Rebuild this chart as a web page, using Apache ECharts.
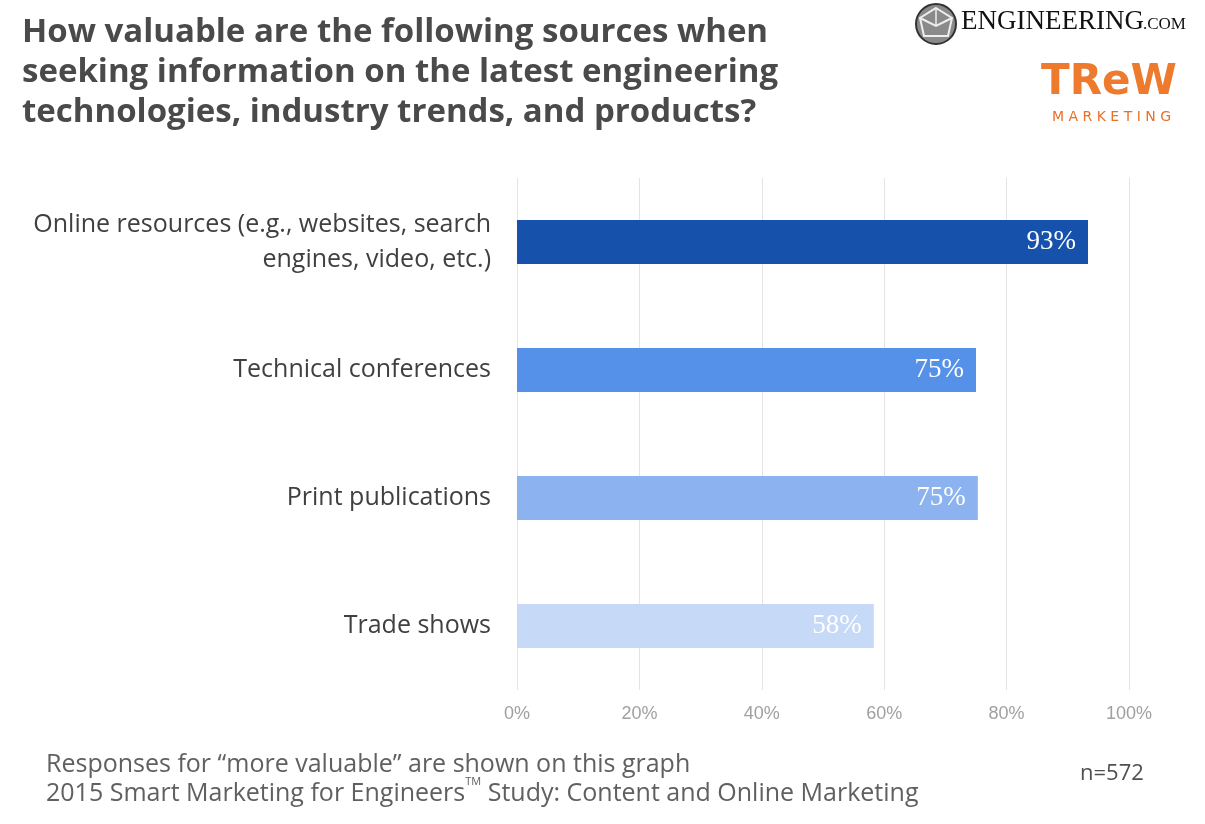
<!DOCTYPE html>
<html>
<head>
<meta charset="utf-8">
<script src="https://cdn.jsdelivr.net/npm/echarts@6/dist/echarts.min.js"></script>
<style>
  html, body { margin: 0; padding: 0; background: #fff; }
  #chart { width: 1205px; height: 824px; }
</style>
</head>
<body>
<div id="chart"></div>
<script>
const categories = [
  "Online resources (e.g., websites, search\nengines, video, etc.)",
  "Technical conferences",
  "Print publications",
  "Trade shows",
];
const values = [93.3, 75.0, 75.3, 58.3];
const labels = ["93%", "75%", "75%", "58%"];
const barColors = ["#1651AC", "#5591E8", "#8CB3F0", "#C6D9F6"];
const xTicks = [0, 20, 40, 60, 80, 100];

const chart = echarts.init(document.getElementById("chart"));

const title = "How valuable are the following sources when\nseeking information on the latest engineering\ntechnologies, industry trends, and products?";

chart.setOption({
  animation: false,
  grid: { left: 517, right: 76, top: 178, bottom: 134 },
  xAxis: {
    type: "value",
    min: 0,
    max: 100,
    interval: 20,
    axisLine: { show: false },
    axisTick: { show: false },
    splitLine: { lineStyle: { color: "#e4e4e4", width: 1 } },
    axisLabel: {
      color: "#a0a0a0",
      fontFamily: "Liberation Sans",
      fontSize: 18,
      margin: 15,
      formatter: (v) => (xTicks.includes(v) ? v + "%" : ""),
    },
  },
  yAxis: {
    type: "category",
    inverse: true,
    data: categories,
    axisLine: { show: false },
    axisTick: { show: false },
    axisLabel: {
      color: "#404040",
      fontFamily: "Open Sans",
      fontSize: 25,
      lineHeight: 35,
      align: "right",
      margin: 26,
    },
  },
  series: [
    {
      type: "bar",
      barWidth: 44,
      data: values.map((v, i) => ({ value: v, itemStyle: { color: barColors[i] } })),
      label: {
        show: true,
        position: "insideRight",
        distance: 12,
        color: "#ffffff",
        fontFamily: "Liberation Serif",
        fontSize: 27,
        formatter: (p) => labels[p.dataIndex],
      },
    },
  ],
  graphic: [
    {
      type: "text",
      left: 22,
      top: 13,
      style: {
        text: title,
        fill: "#4a4a4a",
        font: "bold 33px 'Open Sans'",
        lineHeight: 40,
      },
    },
    {
      type: "text",
      left: 46,
      top: 752,
      style: {
        text: "Responses for \u201cmore valuable\u201d are shown on this graph",
        fill: "#606060",
        font: "25px 'Open Sans'",
      },
    },
    {
      type: "text",
      left: 46,
      top: 776,
      style: {
        text: "{a|2015 Smart Marketing for Engineers}{tm|TM}{a| Study: Content and Online Marketing}",
        rich: {
          a: { fill: "#606060", fontFamily: "Open Sans", fontSize: 25, lineHeight: 30, verticalAlign: "bottom" },
          tm: { fill: "#606060", fontFamily: "Open Sans", fontSize: 11, lineHeight: 30, verticalAlign: "top" },
        },
      },
    },
    {
      type: "text",
      left: 1080,
      top: 763,
      style: { text: "n=572", fill: "#505050", font: "22px 'Open Sans'" },
    },
    // engineering.com logo
    {
      type: "circle",
      shape: { cx: 936, cy: 24, r: 20 },
      style: { fill: "#8a8a8a", stroke: "#333", lineWidth: 2 },
    },
    {
      type: "polygon",
      shape: { points: [[936, 8], [952, 18], [948, 36], [924, 36], [920, 18]] },
      style: { fill: "none", stroke: "#eee", lineWidth: 2 },
    },
    {
      type: "polyline",
      shape: { points: [[920, 18], [936, 26], [952, 18]] },
      style: { stroke: "#eee", lineWidth: 2 },
    },
    {
      type: "polyline",
      shape: { points: [[936, 26], [936, 8]] },
      style: { stroke: "#eee", lineWidth: 1.5 },
    },
    {
      type: "text",
      left: 961,
      top: 8,
      style: { text: "ENGINEERING", fill: "#111", font: "27px 'Liberation Serif'" },
    },
    {
      type: "text",
      left: 1143,
      top: 16,
      style: { text: ".COM", fill: "#111", font: "17px 'Liberation Serif'" },
    },
    // TREW marketing logo
    {
      type: "text",
      left: 1041,
      top: 62,
      style: { text: "TReW", fill: "#EE7A2E", font: "bold 42px 'DejaVu Sans'" },
    },
    {
      type: "text",
      left: 1052,
      top: 110,
      style: { text: "M A R K E T I N G", fill: "#E8702A", font: "14px 'DejaVu Sans'" },
    },
  ],
});
</script>
</body>
</html>
